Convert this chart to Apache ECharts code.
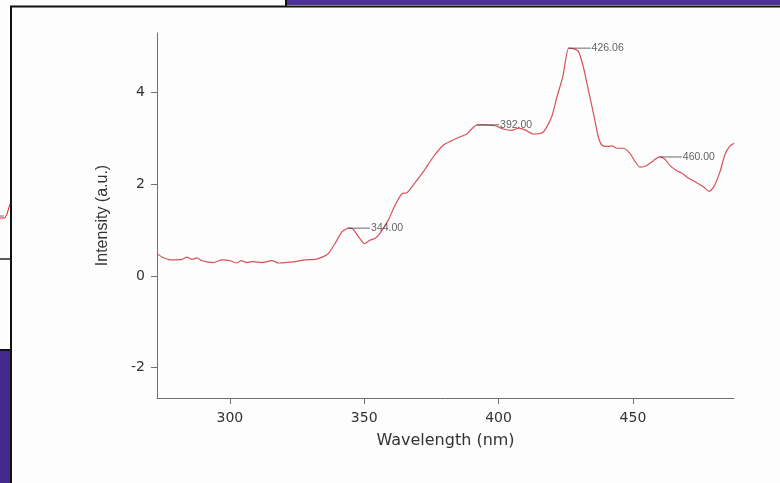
<!DOCTYPE html>
<html>
<head>
<meta charset="utf-8">
<script src="https://cdn.jsdelivr.net/npm/echarts@6/dist/echarts.min.js"></script>
<style>
  html, body { margin: 0; padding: 0; background: #fdfdfd; }
  #chart { width: 780px; height: 483px; }
</style>
</head>
<body>
<div id="chart"></div>
<script>
// Emission spectrum: wavelength (nm) vs intensity (a.u.)
const wavelength = [
  272.9, 274.8, 277.8, 282.2, 284.0, 285.9, 287.8, 289.6, 293.9, 297.1,
  300.1, 302.6, 304.2, 306.4, 308.2, 311.9, 315.7, 318.1, 320.6, 324.3,
  328.0, 331.8, 334.8, 336.7, 339.2, 341.7, 343.5, 344.0, 345.6, 347.9,
  350.1, 352.2, 354.1, 355.9, 359.0, 361.0, 364.0, 365.9, 368.3, 372.0,
  375.8, 379.5, 382.0, 385.7, 388.2, 390.0, 392.0, 398.7, 401.8, 404.9,
  407.4, 409.9, 412.9, 416.1, 417.9, 419.8, 421.6, 423.9, 426.06, 427.8,
  429.7, 431.5, 433.4, 435.3, 437.1, 438.4, 440.8, 442.1, 444.0, 446.4,
  448.9, 450.8, 452.6, 455.1, 457.6, 460.0, 461.9, 463.8, 466.3, 468.1,
  470.6, 473.7, 476.2, 478.4, 480.1, 482.4, 484.2, 486.1, 487.6
];
const intensity = [
  0.49, 0.41, 0.35, 0.36, 0.41, 0.36, 0.39, 0.33, 0.29, 0.35,
  0.33, 0.28, 0.33, 0.29, 0.31, 0.29, 0.33, 0.28, 0.29, 0.31,
  0.35, 0.36, 0.42, 0.49, 0.71, 0.96, 1.03, 1.04, 1.03, 0.85,
  0.70, 0.78, 0.82, 0.93, 1.22, 1.48, 1.79, 1.81, 1.98, 2.27,
  2.60, 2.85, 2.93, 3.03, 3.09, 3.20, 3.29, 3.27, 3.20, 3.17,
  3.22, 3.18, 3.09, 3.11, 3.24, 3.47, 3.87, 4.34, 4.96, 4.95,
  4.89, 4.56, 4.05, 3.54, 3.03, 2.85, 2.82, 2.83, 2.78, 2.78,
  2.67, 2.49, 2.37, 2.40, 2.51, 2.59, 2.54, 2.40, 2.29, 2.24,
  2.13, 2.03, 1.94, 1.84, 1.94, 2.27, 2.64, 2.83, 2.89
];

// Labelled peaks
const peakWavelengths = [344.00, 392.00, 426.06, 460.00];
const peakIntensities = [1.04, 3.29, 4.96, 2.59];

// Axis ranges and tick labels
const xRange = [272.9, 487.6];
const yRange = [-2.66, 5.29];
const xTicks = [300, 350, 400, 450];
const yTicks = [-2, 0, 2, 4];

const curve = wavelength.map((w, i) => [w, intensity[i]]);
const peaks = peakWavelengths.map((w, i) => [w, peakIntensities[i]]);

const axisColor = '#707070';
const textColor = '#333333';

const chart = echarts.init(document.getElementById('chart'), null, { renderer: 'canvas' });

chart.setOption({
  backgroundColor: '#fdfdfd',
  animation: false,
  grid: { left: 157, top: 33, right: 46, bottom: 85, containLabel: false },
  xAxis: {
    type: 'value',
    min: xRange[0],
    max: xRange[1],
    name: 'Wavelength (nm)',
    nameLocation: 'middle',
    nameGap: 35,
    nameTextStyle: { fontFamily: 'DejaVu Sans', fontSize: 16, color: textColor },
    axisLine: { onZero: false, lineStyle: { color: axisColor, width: 1 } },
    axisTick: { show: true, length: 6, customValues: xTicks, lineStyle: { color: axisColor } },
    axisLabel: {
      customValues: xTicks, margin: 13,
      fontFamily: 'DejaVu Sans', fontSize: 14, color: textColor
    },
    splitLine: { show: false }
  },
  yAxis: {
    type: 'value',
    min: yRange[0],
    max: yRange[1],
    name: 'Intensity (a.u.)',
    nameLocation: 'middle',
    nameGap: 46,
    nameTextStyle: { fontFamily: 'Liberation Sans', fontSize: 16, color: textColor },
    axisLine: { show: true, lineStyle: { color: axisColor, width: 1 } },
    axisTick: { show: true, length: 6, customValues: yTicks, lineStyle: { color: axisColor } },
    axisLabel: {
      customValues: yTicks, margin: 12,
      fontFamily: 'DejaVu Sans', fontSize: 14, color: textColor
    },
    splitLine: { show: false }
  },
  series: [
    {
      type: 'line',
      data: curve,
      showSymbol: false,
      smooth: 0.2,
      lineStyle: { color: '#d9505c', width: 1.2 },
      z: 2
    },
    {
      type: 'scatter',
      data: peaks,
      symbol: 'rect',
      symbolSize: [22, 1],
      symbolOffset: [11, 0],
      itemStyle: { color: '#444444' },
      label: {
        show: true,
        position: 'right',
        distance: 1,
        fontFamily: 'Liberation Sans',
        fontSize: 10.5,
        color: '#3a3a3a',
        formatter: p => p.value[0].toFixed(2)
      },
      z: 3
    }
  ],
  graphic: [
    // slide frame around the plot
    { type: 'rect', shape: { x: 287, y: 0, width: 493, height: 5 }, style: { fill: '#4d3293' }, silent: true },
    { type: 'line', shape: { x1: 10, y1: 6.5, x2: 780, y2: 6.5 }, style: { stroke: '#111', lineWidth: 2 }, silent: true },
    { type: 'line', shape: { x1: 286, y1: 0, x2: 286, y2: 6 }, style: { stroke: '#111', lineWidth: 2 }, silent: true },
    { type: 'line', shape: { x1: 11, y1: 6, x2: 11, y2: 483 }, style: { stroke: '#111', lineWidth: 2 }, silent: true },
    { type: 'rect', shape: { x: 0, y: 351, width: 10, height: 132 }, style: { fill: '#45298a' }, silent: true },
    { type: 'line', shape: { x1: 0, y1: 350, x2: 10, y2: 350 }, style: { stroke: '#111', lineWidth: 2 }, silent: true },
    { type: 'line', shape: { x1: 0, y1: 259, x2: 10, y2: 259 }, style: { stroke: '#222', lineWidth: 1.5 }, silent: true },
    { type: 'polyline', shape: { points: [[0, 216], [4, 216]] }, style: { stroke: '#7a5ab0', lineWidth: 1 }, silent: true },
    { type: 'polyline', shape: { points: [[0, 218], [5, 218], [7, 214], [10, 204]] }, style: { stroke: '#e02020', lineWidth: 1, fill: null }, silent: true }
  ]
});
</script>
</body>
</html>
